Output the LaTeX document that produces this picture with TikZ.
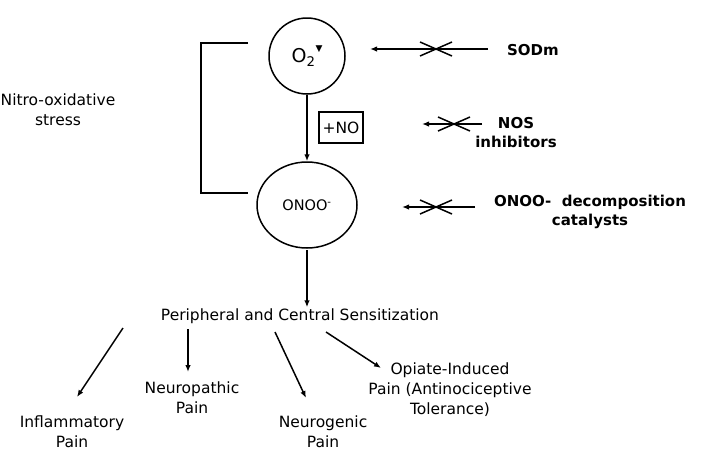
\documentclass[tikz,border=0pt]{standalone}
\usepackage{fontspec}
\setmainfont{DejaVu Sans}
\newfontfamily\symfont{DejaVu Sans}
\usetikzlibrary{arrows.meta,shapes.geometric}
\begin{document}
\begin{tikzpicture}[x=1pt,y=-1pt,
  every node/.style={font=\fontsize{15.5}{20}\selectfont, align=center, inner sep=1pt},
  bold/.style={font=\fontsize{15}{19}\selectfont\bfseries},
  ln/.style={line width=1.5pt},
  arr/.style={ln,-{Latex[length=7pt,width=5.5pt]}},
  xmark/.style={line width=1.5pt}]
\useasboundingbox (0,0) rectangle (703,459);
% bracket
\draw[ln] (248,43) -- (201,43) -- (201,193) -- (248,193);
\node (stress) at (58,110) {Nitro-oxidative\\stress};
% circle and ellipse
\node[draw, circle, ln, minimum size=76pt, inner sep=0pt, font=\fontsize{19}{20}\selectfont] (o2) at (307,56) {O\textsubscript{2}\raisebox{1.1ex}{\symfont\fontsize{9}{9}\selectfont▼}};
\node[draw, ellipse, ln, minimum width=100pt, minimum height=86pt, inner sep=0pt, font=\fontsize{14.5}{20}\selectfont] (onoo) at (307,205) {ONOO\textsuperscript{-}};
\node[draw, ln, minimum width=44pt, minimum height=31pt, inner sep=0pt] (no) at (341,127.5) {+NO};
\draw[arr] (o2) -- (onoo);
% inhibitors
\node[bold] (sod) at (533,50) {SODm};
\node[bold] (nos) at (516,133) {NOS\\inhibitors};
\node[bold] (cat) at (590,212) {ONOO-\ \ decomposition\\catalysts};
\coordinate (s1) at (488,49); \coordinate (s2) at (370,49);
\coordinate (n1) at (482,124); \coordinate (n2) at (422,124);
\coordinate (c1) at (475,207); \coordinate (c2) at (402,207);
\draw[arr] (s1) -- (s2);
\draw[arr] (n1) -- (n2);
\draw[arr] (c1) -- (c2);
\foreach \cx/\cy in {437/49, 455/124, 437/207}{
  \draw[xmark] (\cx-17,\cy-7) -- (\cx+15,\cy+7);
  \draw[xmark] (\cx-17,\cy+7) -- (\cx+15,\cy-7);
}
% sensitization
\node (sens) at (300,316) {Peripheral and Central Sensitization};
\coordinate (e1) at (307,250);
\draw[arr] (e1) -- (sens.north -| e1);
\node (infl) at (72,432) {Inflammatory\\Pain};
\node (neurop) at (192,398) {Neuropathic\\Pain};
\node (neurog) at (323,432) {Neurogenic\\Pain};
\node (opi) at (450,390) {Opiate-Induced\\Pain (Antinociceptive\\Tolerance)};
\coordinate (a1) at (123,328); \coordinate (a2) at (77,397);
\coordinate (b1) at (188,329); \coordinate (b2) at (188,372);
\coordinate (c3) at (275,332); \coordinate (c4) at (306,398);
\coordinate (d1) at (326,332); \coordinate (d2) at (381,368);
\draw[arr] (a1) -- (a2);
\draw[arr] (b1) -- (b2);
\draw[arr] (c3) -- (c4);
\draw[arr] (d1) -- (d2);
\end{tikzpicture}
\end{document}
